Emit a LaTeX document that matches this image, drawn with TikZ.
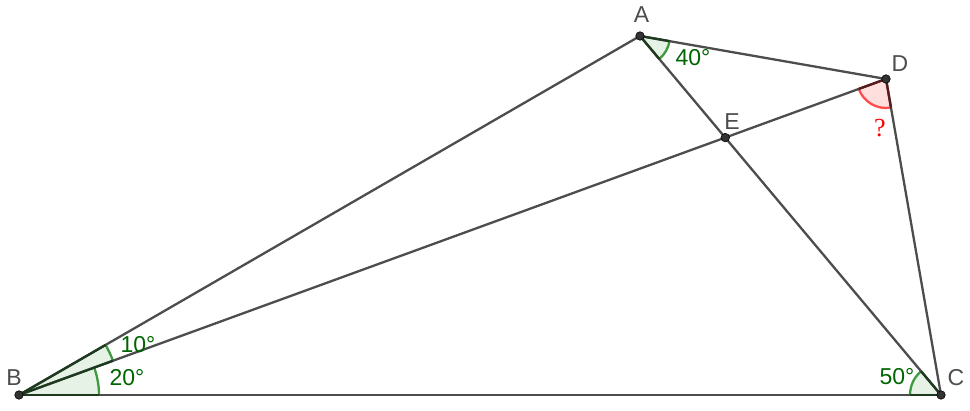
\documentclass[tikz,border=0pt]{standalone}
\usepackage{fontspec}
\setmainfont{Liberation Sans}
\newfontfamily\qfont{Liberation Serif}
\usetikzlibrary{angles,calc}
\definecolor{segc}{HTML}{4D4D4D}
\definecolor{ptc}{HTML}{333333}
\definecolor{arcg}{HTML}{3F9A3F}
\definecolor{lblg}{HTML}{006400}
\definecolor{sideg}{HTML}{1E3A1E}
\definecolor{arcr}{HTML}{FF4D4D}
\definecolor{sider}{HTML}{5A1A1A}
\tikzset{
  seg/.style={draw=segc, line width=2.3pt},
  gang/.style={fill=arcg, fill opacity=0.13, draw=arcg, draw opacity=1, line width=2.3pt},
  rang/.style={fill=red, fill opacity=0.13, draw=arcr, draw opacity=1, line width=2.3pt},
  gside/.style={draw=sideg, line width=2.3pt},
  rside/.style={draw=sider, line width=2.3pt},
  pt/.style={circle, fill=ptc, draw=black, line width=0.6pt, inner sep=0pt, minimum size=8.5pt},
  plbl/.style={text=segc, font=\fontsize{23}{23}\selectfont, inner sep=0pt},
  glbl/.style={text=lblg, font=\fontsize{23}{23}\selectfont, inner sep=0pt},
}
\begin{document}
\begin{tikzpicture}[x=1pt,y=1pt]
\useasboundingbox (0,0) rectangle (970,411);
\coordinate (B) at (19,16);
\coordinate (C) at (941,16);
\coordinate (A) at (640,375);
\coordinate (D) at (886,332);
\path (intersection of A--C and B--D) coordinate (E);
% angle sectors
\pic [gang, angle radius=80pt] {angle=C--B--E};
\pic [gang, angle radius=100pt] {angle=E--B--A};
\pic [gang, angle radius=30pt] {angle=C--A--D};
\pic [gang, angle radius=31pt] {angle=A--C--B};
\pic [rang, angle radius=29pt] {angle=E--D--C};
% segments
\draw[seg] (B) -- (C);
\draw[seg] (B) -- (A);
\draw[seg] (A) -- (D);
\draw[seg] (D) -- (C);
\draw[seg] (A) -- (C);
\draw[seg] (B) -- (D);
% darker sector sides
\draw[gside] (B) -- ($(B)!100pt!(A)$);
\draw[gside] (B) -- ($(B)!100pt!(E)$);
\draw[gside] (B) -- ($(B)!80pt!(C)$);
\draw[gside] (A) -- ($(A)!30pt!(C)$);
\draw[gside] (A) -- ($(A)!30pt!(D)$);
\draw[gside] (C) -- ($(C)!31pt!(A)$);
\draw[gside] (C) -- ($(C)!31pt!(B)$);
\draw[rside] (D) -- ($(D)!29pt!(E)$);
\draw[rside] (D) -- ($(D)!29pt!(C)$);
% points
\node[pt] (nA) at (A) {};
\node[pt] (nB) at (B) {};
\node[pt] (nC) at (C) {};
\node[pt] (nD) at (D) {};
\node[pt] (nE) at (E) {};
% labels
\node[plbl] (lA) at (641.5,396) {A};
\node[plbl] (lD) at (900,347) {D};
\node[plbl] (lE) at (732,289) {E};
\node[plbl] (lB) at (14,33) {B};
\node[plbl] (lC) at (956,33) {C};
\node[glbl] (l40) at (693,353) {40°};
\node[glbl] (l10) at (138,66) {10°};
\node[glbl] (l20) at (127,33) {20°};
\node[glbl] (l50) at (897,34) {50°};
\node[text=red, font=\qfont\fontsize{26}{26}\selectfont, inner sep=0pt] (lq) at (880,283) {?};
\end{tikzpicture}
\end{document}
